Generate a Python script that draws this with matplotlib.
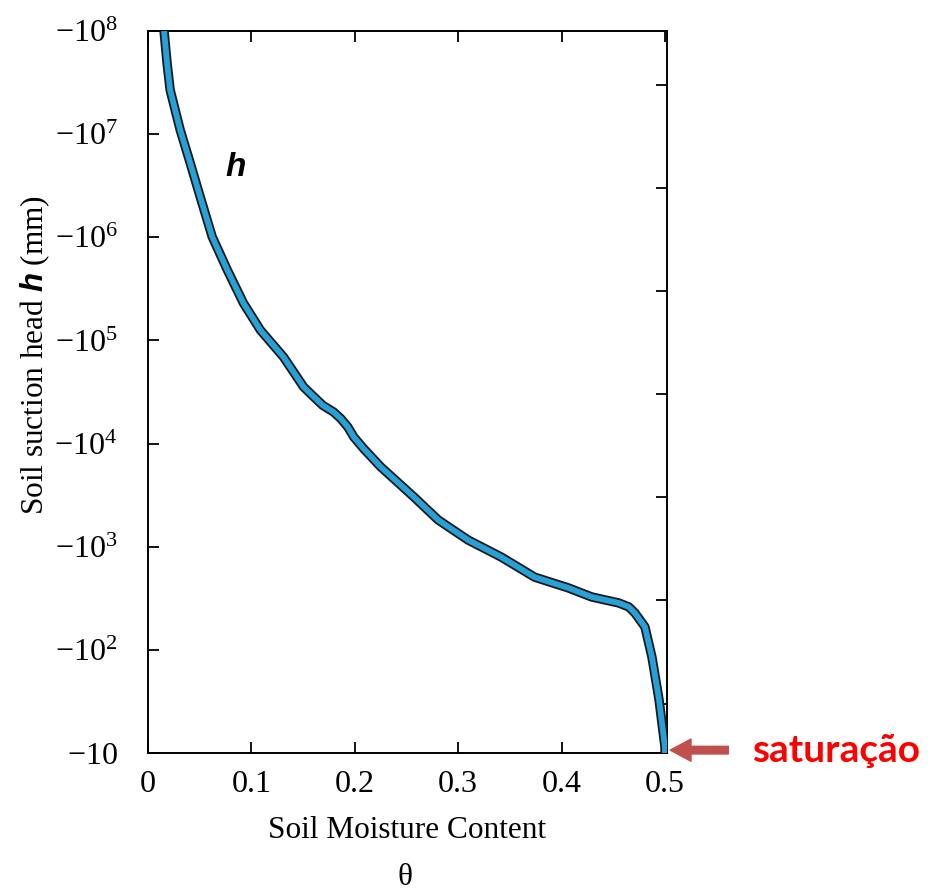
import matplotlib
matplotlib.use("Agg")
import matplotlib.pyplot as plt
from matplotlib.ticker import FixedLocator, NullFormatter
import numpy as np

# fonts: serif for the scanned figure, custom mathtext so \mathbf gives a sans bold italic h
plt.rcParams['font.family'] = ['Liberation Serif', 'DejaVu Serif']
plt.rcParams['mathtext.fontset'] = 'custom'
plt.rcParams['mathtext.rm'] = 'Liberation Serif'
plt.rcParams['mathtext.it'] = 'Liberation Serif:italic'
plt.rcParams['mathtext.bf'] = 'Liberation Sans:italic:bold'

# retention curve (theta, suction head in mm)
theta = [0.0155, 0.0184, 0.0214, 0.0311, 0.0408, 0.0505, 0.0621, 0.0767,
         0.0922, 0.1087, 0.1311, 0.1505, 0.1602, 0.1690, 0.1796, 0.1864,
         0.1932, 0.199, 0.2087, 0.2252, 0.2573, 0.2806, 0.3097, 0.3417,
         0.3738, 0.4068, 0.4291, 0.4553, 0.465, 0.4709, 0.4806, 0.4874,
         0.4942, 0.5, 0.5]
h = [-1.0e8, -4.9e7, -2.68e7, -1.10e7, -5.25e6, -2.46e6, -1.01e6, -4.82e5,
     -2.31e5, -1.26e5, -6.9e4, -3.54e4, -2.85e4, -2.35e4, -2.02e4, -1.75e4,
     -1.45e4, -1.16e4, -8.9e3, -5.93e3, -3.03e3, -1.82e3, -1.16e3, -794,
     -508, -398, -326, -285, -261, -228, -167, -85,
     -33, -11.4, -10]

xticks = [0, 0.1, 0.2, 0.3, 0.4, 0.5]
xticklabels = ['0', '0.1', '0.2', '0.3', '0.4', '0.5']
ydecades = [1, 2, 3, 4, 5, 6, 7, 8]
yticklabels = [r'$-10$'] + [r'$-10^{%d}$' % d for d in ydecades[1:]]

fig = plt.figure(figsize=(9.31, 8.92), dpi=100)
ax = fig.add_axes([0.159, 0.1558, 0.5575, 0.8094])

suction = -np.array(h)
ax.plot(theta, suction, color='#1a1a1a', lw=6.8, solid_capstyle='butt',
        solid_joinstyle='round', zorder=3)
ax.plot(theta, suction, color='#27a0d8', lw=4.2, solid_capstyle='butt',
        solid_joinstyle='round', zorder=4)

ax.set_yscale('log')
ax.set_xlim(0, 0.502)
ax.set_ylim(10, 1e8)

ax.set_xticks(xticks)
ax.set_xticklabels(xticklabels, fontsize=23)
ax.set_yticks([10.0 ** d for d in ydecades])
ax.set_yticklabels(yticklabels, fontsize=23)
ax.yaxis.set_minor_locator(FixedLocator([10.0 ** (d + 0.48) for d in ydecades[:-1]]))
ax.yaxis.set_minor_formatter(NullFormatter())

ax.tick_params(axis='x', which='major', direction='in', length=8, width=1.3,
               top=True, pad=12)
ax.tick_params(axis='y', which='major', direction='in', length=8, width=1.3,
               left=True, right=False, pad=22)
ax.tick_params(axis='y', which='minor', direction='in', length=8, width=1.3,
               left=False, right=True)
for sp in ax.spines.values():
    sp.set_linewidth(1.4)

ax.text(0.168, 0.81, r'$\mathbf{h}$', transform=ax.transAxes, fontsize=24,
        ha='center', va='center')

fig.text(0.437, 0.0695, 'Soil Moisture Content', fontsize=22.5, ha='center', va='center')
fig.text(0.435, 0.0157, 'θ', fontsize=22.5, ha='center', va='center')
fig.text(0.0376, 0.602, r'Soil suction head $\mathbf{h}$ (mm)', fontsize=22.5,
         rotation=90, ha='center', va='center')

# saturation arrow and note
ax.annotate('', xy=(1.006, 0.004), xytext=(1.118, 0.004), xycoords='axes fraction',
            textcoords='axes fraction', annotation_clip=False,
            arrowprops=dict(width=5.5, headwidth=16, headlength=15, color='#c0504d',
                            shrink=0))
ax.text(1.164, -0.0125, 'saturação', transform=ax.transAxes, fontsize=28,
        fontweight='bold', color='#ff0000', family=['Lato', 'DejaVu Sans'],
        ha='left', va='baseline')

fig.savefig('out.png', dpi=100)
